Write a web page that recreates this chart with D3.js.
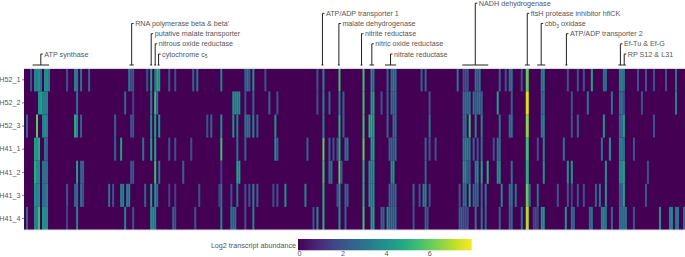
<!doctype html>
<meta charset="utf-8">
<style>
 body { margin: 0; background: #fff; }
 text { font-family: "Liberation Sans", Arial, sans-serif; font-size: 7.2px; fill: #555; }
 .tick line { stroke: #444; stroke-width: 0.7px; }
</style>
<svg width="685" height="257"></svg>
<script src="https://d3js.org/d3.v7.min.js"></script>
<script>
 // Data: each sample lists [gene index, log2 abundance], genes not listed are 0
 var samples = ['H52_1', 'H52_2', 'H52_3', 'H41_1', 'H41_2', 'H41_3', 'H41_4'];
 var geneCount = 330;

 var H52_1 = [[3,2],[5,3.5],[6,3.5],[7,4],[8,3],[10,4],[11,4],[12,3.5],[21,2],[25,3.5],[26,3.5],[28,3],[32,2.5],[52,3],[53,2],[54,2],[61,2],[63,4.5],[65,3],[66,5],[67,4.5],[72,2],[75,2],[84,2.5],[86,3],[98,3.5],
   [110,2.5],[111,3],[112,2.5],[114,4],[120,2],[146,2],[149,3.5],[157,5.5],[169,5.5],[173,4],[174,3],[181,2.5],[183,3],[184,3.5],[185,3],[198,2.5],[200,2.5],
   [216,3],[219,2],[220,2],[221,2],[225,3],[226,2.5],[227,3],[237,2.5],[240,2],[242,3],[243,3],[248,2],[250.5,6],[251,6],[258,3.5],[259,3.5],[271,2],[276,2],[279,2],[283,4.5],[289,3],[290,3],[297,3.5],[298,3.5],[299,3],[306,2],[310,2],[314,2],[320,2],[325,3]];
 var H52_2 = [[7,4],[8,4.5],[9,3.5],[10,3.5],[11,3.5],[26,3],[50,2.5],[54,1.5],[63,3.5],[65,5.5],[66,3],
   [104,4],[105,4],[106,4],[107,4],[110,2],[114,2.5],[122,2.5],[126,2],[146,2],[149,3.5],[152,2.5],[157,3.5],[159,2.5],[169,5.5],[173,4.5],[174,4.5],[178,2],[181,2.5],[183,3],[184,3],[185,3],[202,2],
   [219,3],[220,3],[221,3],[222,3],[224,3],[225,2.5],[226,3],[227,3],[228,2.5],[236,4.5],[243,2.5],[250.5,7.5],[251,7.5],[258,3],[259,3],[273,2],[281,3],[293,3],[297,3],[298,3],[299,2],[308,2],[325,3.5]];
 var H52_3 = [[1,2.5],[6,6],[9,3.5],[10,4],[11,3.5],[25,5],[26,4],[28,2.5],[45,2.5],[53,2],[54,2],[63,4],[65,4.5],[67,4],[91,2],[93,2.5],[98,4],
   [104,4],[106,3.5],[110,3],[111,3],[112,3],[114,3.5],[116,2.5],[125,4],[149,3.5],[157,5],[159,2.5],[169,5.5],[172,5],[173,5],[174,4.5],[181,2.5],[184,3],[185,3],[202,3],
   [219,3],[220,3],[222,5.5],[225,3.5],[228,3.5],[237,3],[242,3],[243,3],[250.5,6.5],[251,6.5],[258,3.5],[259,3.5],[273,2],[276,2.5],[289,4],[297,3],[298,3],[299,4.5],[314,2]];
 var H41_1 = [[5,4.5],[6,4],[7,5],[10,3],[11,2.5],[45,2.5],[48,4.5],[59,3],[63,4.5],[65,4.5],[72,2],[75,2],[83,2],[98,5.5],
   [106,3],[110,2.5],[125,4],[126,2.5],[141,2.5],[149,6],[152,2.5],[154,2],[156,2],[157,5],[160,3],[161,3],[169,6],[173,4.5],[174,4.5],[182,2.5],[183,2.5],[184,2.5],[185,3],[200,2.5],[202,2],[205,2],
   [219,3.5],[220,3.5],[221,3.5],[222,3],[224,2.5],[226,2],[228,3],[234,2],[236,3],[237,3],[250.5,5.5],[251,5.5],[256,2],[259,3.5],[269,3],[288,3],[292,4],[297,3.5],[298,3.5],[299,3],[304,2]];
 var H41_2 = [[5,5],[6,4],[7,4],[9,3],[10,3],[11,3],[26,4.5],[28,2.5],[29,2.5],[53,2],[54,2],[65,5.5],[67,3],[79,2.5],[98,1.5],
   [106,4.5],[107,4.5],[149,5.5],[152,3],[153,3],[157,6],[158,2.5],[169,5],[172,4],[173,4],[174,4],[183,4],[184,4],[200,2.5],
   [219,4],[220,4],[221,2.5],[222,2.5],[225,3.5],[226,3.5],[228,4.5],[231,5],[236,4],[237,4],[243,3],[250.5,5],[251,5],[259,4],[271,4],[273,4],[290,4],[297,4],[298,4],[299,4.5],[311,2]];
 var H41_3 = [[5,4],[6,3.5],[7,4],[9,3],[10,3],[11,3.5],[21,2],[25,2.5],[26,3],[28,3],[29,2],[42,3],[44,2],[48,3.5],[49,3.5],[51,3.5],[52,3.5],[60,2.5],[63,4.5],[65,4],[66,3],[72,1.5],[75,1.5],[87,2],[97,1.5],[98,3],
   [103,2],[106,3],[110,2],[112,2],[114,3.5],[116,2.5],[124,2],[126,2],[130,4],[140,3.5],[149,5],[156,2],[157,4],[160,2.5],[161,2.5],[169,5],[172,4],[173,4],[174,4],[182,2.5],[183,2.5],[184,2.5],[185,2.5],[194,2.5],[197,2],[199,3.5],[200,3.5],[202,2],
   [217,2],[219,3],[220,3],[222,4.5],[224,2.5],[225,2.5],[226,2.5],[228,2.5],[230,3],[238,3.5],[242,3],[243,3],[245,3],[250.5,6],[251,6],[252,2.5],[256,3],[266,2],[271,2],[273,1.5],[276,2],[279,2],[285,2.5],[287,3],[290,4],[297,2.5],[298,2.5],[299,4.5],[310,2]];
 var H41_4 = [[1,2.5],[5,3.5],[6,3.5],[7,5.5],[9,4],[10,4],[11,4],[21,1.5],[26,3.5],[50,3.5],[54,2],[63,4],[64,4],[65,3.5],[74,2.5],[75,2],[85,2],[98,3.5],
   [103,3],[104,3],[105,3],[110,2],[114,3.5],[144,2],[146,3.5],[149,5],[157,4],[160,2.5],[169,5.5],[173,4.5],[174,4.5],[178,2.5],[179,2.5],[181,4],[182,3],[183,3],[184,3],[185,3],[194,2],[200,2.5],[201,2],
   [217,2.5],[218,2.5],[219,2],[220,2],[221,2],[225,3],[228,3],[230,2.5],[237,2.5],[242,2.5],[243,2.5],[248,3],[250.5,7],[251,7],[254,1.5],[255,2],[256,1.5],[258,4],[259,4],[270,4],[273,3],[274,2.5],[282,3],[283,3],[288,3.5],[289,3.5],[290,3],[293,2.5],[297,3],[298,3],[299,3],[300,3],[304,2],[317,4],[322,3.5],[323,3.5],[325,3],[326,3],[329,3]];
 var sampleValues = [H52_1, H52_2, H52_3, H41_1, H41_2, H41_3, H41_4];

 // Annotations: label, subscript, first gene, last gene, height level
 var annotLabels = ['ATP synthase', "RNA polymerase beta & beta'", 'putative malate transporter', 'nitrous oxide reductase', 'cytochrome c', 'ATP/ADP transporter 1', 'malate dehydrogenase', 'nitrite reductase', 'nitric oxide reductase', 'nitrate reductase', 'NADH dehydrogenase', 'ftsH protease inhibitor hflCK', 'cbb', 'ATP/ADP transporter 2', 'Ef-Tu & Ef-G', 'RP S12 & L31'];
 var annotSubs = ['', '', '', '', '5', '', '', '', '', '', '', '', '3', '', '', ''];
 var annotSuffix = ['', '', '', '', '', '', '', '', '', '', '', '', ' oxidase', '', '', ''];
 var annotFrom = [4.3, 52.7, 63, 65, 66.7, 148.5, 156.7, 168, 172.5, 180.2, 218.8, 250, 256.2, 270.3, 296.7, 298.8];
 var annotTo = [12.5, 54.8, 64, 66, 67.7, 149.5, 157.7, 169, 174.8, 185.8, 231.8, 252.5, 260.2, 271.3, 298.8, 300.5];
 var annotLevel = [5, 2, 3, 4, 5, 1, 2, 3, 4, 5, 0, 1, 2, 3, 4, 5];

 var colorTicks = [0, 2, 4, 6];

 var svg = d3.select('svg');
 var margin = { top: 68.3, left: 24, bottom: 27, right: 0 };
 var width = 685, height = 257;

 var x = d3.scaleLinear().domain([0, geneCount]).range([margin.left, width - margin.right]);
 var y = d3.scaleBand().domain(samples).range([margin.top, height - margin.bottom]);
 var color = d3.scaleSequential(d3.interpolateViridis).domain([0, 7.95]);
 var levelY = d3.scaleLinear().domain([0, 5]).range([3.2, 54]);

 // Heatmap
 svg.append('rect')
    .attr('x', x(0)).attr('y', y.range()[0])
    .attr('width', x(geneCount) - x(0)).attr('height', y.range()[1] - y.range()[0])
    .attr('fill', color(0));

 svg.append('g').selectAll('g')
    .data(samples)
    .join('g')
    .attr('transform', function(d) { return 'translate(0,' + y(d) + ')'; })
    .selectAll('rect')
    .data(function(d, i) { return sampleValues[i]; })
    .join('rect')
    .attr('x', function(d) { return x(d[0]); })
    .attr('width', x(1) - x(0))
    .attr('height', y.bandwidth())
    .attr('fill', function(d) { return color(d[1]); });

 // pale rule above and below the cells
 svg.selectAll('.rule')
    .data(y.range())
    .join('line')
    .attr('class', 'rule')
    .attr('x1', x(0)).attr('x2', width)
    .attr('y1', function(d) { return d; }).attr('y2', function(d) { return d; })
    .attr('stroke', '#ddd').attr('stroke-width', 1.2);

 // Sample labels
 var yAxis = svg.append('g')
    .attr('transform', 'translate(' + margin.left + ',0)')
    .call(d3.axisLeft(y).tickSize(2).tickPadding(1.5));
 yAxis.select('.domain').remove();
 yAxis.selectAll('text').style('font-size', '7.2px').style('font-family', '"Liberation Sans", Arial, sans-serif');

 // Gene group annotations
 var annot = svg.append('g').selectAll('g')
    .data(annotLabels)
    .join('g');

 var baseY = 65;
 annot.append('line')
    .attr('x1', function(d, i) { return x(annotFrom[i]); })
    .attr('x2', function(d, i) { return x(annotTo[i]); })
    .attr('y1', baseY).attr('y2', baseY);
 annot.append('line')
    .attr('x1', function(d, i) { return x((annotFrom[i] + annotTo[i]) / 2); })
    .attr('x2', function(d, i) { return x((annotFrom[i] + annotTo[i]) / 2); })
    .attr('y1', baseY)
    .attr('y2', function(d, i) { return levelY(annotLevel[i]); });
 annot.append('line')
    .attr('x1', function(d, i) { return x((annotFrom[i] + annotTo[i]) / 2); })
    .attr('x2', function(d, i) { return x((annotFrom[i] + annotTo[i]) / 2) + 2; })
    .attr('y1', function(d, i) { return levelY(annotLevel[i]); })
    .attr('y2', function(d, i) { return levelY(annotLevel[i]); });
 annot.selectAll('line').attr('stroke', '#222').attr('stroke-width', 1);

 var annotText = annot.append('text')
    .attr('x', function(d, i) { return x((annotFrom[i] + annotTo[i]) / 2) + 3.5; })
    .attr('y', function(d, i) { return levelY(annotLevel[i]); })
    .attr('dy', '0.35em');
 annotText.append('tspan').text(function(d) { return d; });
 annotText.append('tspan')
    .attr('dy', 1.5).style('font-size', '5px')
    .text(function(d, i) { return annotSubs[i]; });
 annotText.append('tspan')
    .attr('dy', function(d, i) { return annotSuffix[i] ? -1.5 : 0; })
    .text(function(d, i) { return annotSuffix[i]; });

 // Colour bar
 var barX = d3.scaleLinear().domain([0, 7.95]).range([299, 471.7]);
 var defs = svg.append('defs');
 var grad = defs.append('linearGradient').attr('id', 'cbar');
 grad.selectAll('stop')
    .data(d3.range(0, 1.001, 0.1))
    .join('stop')
    .attr('offset', function(d) { return d; })
    .attr('stop-color', function(d) { return d3.interpolateViridis(d); });
 svg.append('rect')
    .attr('x', barX(0) - 1).attr('y', 239)
    .attr('width', barX(7.95) - barX(0) + 1).attr('height', 11.3)
    .attr('fill', 'url(#cbar)');

 var barAxis = svg.append('g')
    .attr('transform', 'translate(0,250)')
    .call(d3.axisBottom(barX).tickValues(colorTicks).tickSize(0).tickPadding(0.5));
 barAxis.select('.domain').remove();
 barAxis.selectAll('text').style('font-size', '7.2px').style('font-family', '"Liberation Sans", Arial, sans-serif');

 svg.append('text')
    .attr('x', 296).attr('y', 245)
    .attr('dy', '0.35em')
    .attr('text-anchor', 'end')
    .text('Log2 transcript abundance');
</script>
